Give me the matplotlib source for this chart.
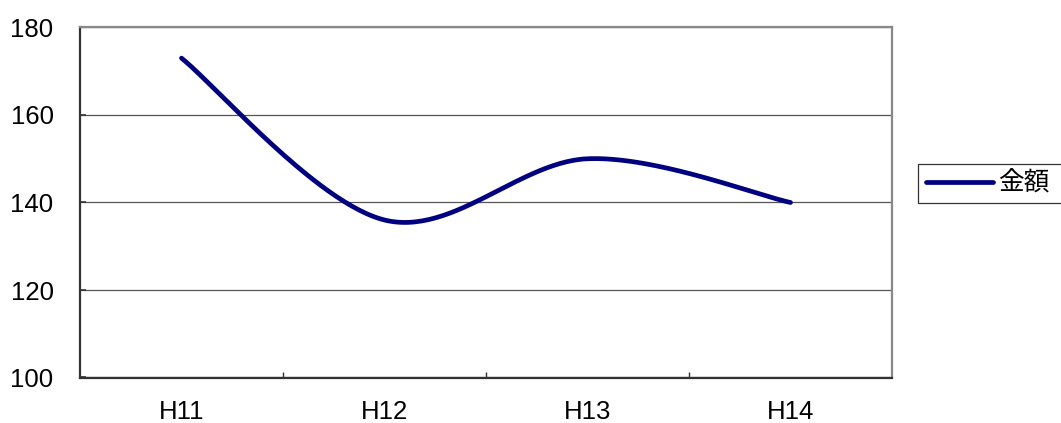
import numpy as np
import matplotlib
matplotlib.use("Agg")
import matplotlib.pyplot as plt

plt.rcParams['font.family'] = ['Liberation Sans', 'Noto Sans CJK JP', 'DejaVu Sans']

categories = ["H11", "H12", "H13", "H14"]
amounts = [173, 136, 150, 140]
series_name = "金額"


def smooth_curve(xs, ys, n=60):
    """Cubic Bezier smoothing through every point (Catmull-Rom style tangents)."""
    xs = np.asarray(xs, float)
    ys = np.asarray(ys, float)
    px, py = [], []
    m = len(xs)
    for i in range(m - 1):
        i0 = max(i - 1, 0)
        i3 = min(i + 2, m - 1)
        p0 = np.array([xs[i], ys[i]])
        p3 = np.array([xs[i + 1], ys[i + 1]])
        c1 = p0 + (np.array([xs[i + 1], ys[i + 1]]) - np.array([xs[i0], ys[i0]])) / 6.0
        c2 = p3 - (np.array([xs[i3], ys[i3]]) - np.array([xs[i], ys[i]])) / 6.0
        t = np.linspace(0, 1, n)[:, None]
        pts = ((1 - t) ** 3) * p0 + 3 * ((1 - t) ** 2) * t * c1 + 3 * (1 - t) * t ** 2 * c2 + t ** 3 * p3
        if i > 0:
            pts = pts[1:]
        px.append(pts[:, 0])
        py.append(pts[:, 1])
    return np.concatenate(px), np.concatenate(py)


FS = 18.5
W, H = 1061, 423

fig = plt.figure(figsize=(W / 100, H / 100), dpi=100)
ax = fig.add_axes([80 / W, 1 - 377.5 / H, (892 - 80) / W, (377.5 - 27.5) / H])

x = np.arange(len(categories))
cx, cy = smooth_curve(x, amounts)
ax.plot(cx, cy, color="#000080", lw=3.4, solid_capstyle="round", label=series_name, zorder=3)

ax.set_xlim(-0.5, len(categories) - 0.5)
ax.set_ylim(100, 180)
ax.set_yticks([100, 120, 140, 160, 180])
ax.yaxis.grid(True, color="#555555", lw=0.9)
ax.set_axisbelow(True)

ax.set_xticks(x)
ax.set_xticklabels(categories)
ax.set_xticks(np.arange(0.5, len(categories) - 1, 1.0), minor=True)
ax.tick_params(axis="x", which="major", length=0, pad=16, labelsize=FS)
ax.tick_params(axis="x", which="minor", direction="in", length=4, width=1, color="#333333")
ax.tick_params(axis="y", direction="in", length=4, width=1.2, color="#333333", pad=19, labelsize=FS)

for side in ("left", "bottom"):
    ax.spines[side].set_color("#333333")
    ax.spines[side].set_linewidth(1.6)
for side in ("top", "right"):
    ax.spines[side].set_color("#888888")
    ax.spines[side].set_linewidth(1.6)

# legend box runs off the right edge of the figure
leg = ax.legend(loc="center left",
                bbox_to_anchor=(918 / W, 1 - 204 / H, 160 / W, 41 / H),
                bbox_transform=fig.transFigure, mode="expand", frameon=True, fancybox=False,
                edgecolor="#000000", handlelength=2.6, handletextpad=0.2,
                borderpad=0.3, borderaxespad=0.0, prop={'size': FS})
leg.get_frame().set_linewidth(0.9)

fig.savefig("out.png", dpi=100)
